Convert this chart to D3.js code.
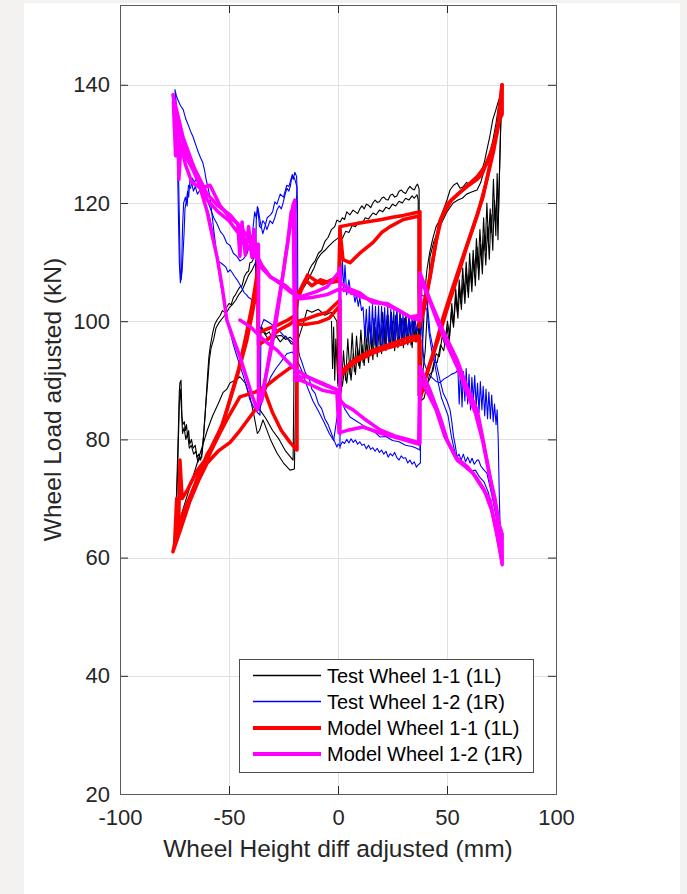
<!DOCTYPE html>
<html><head><meta charset="utf-8">
<script src="https://cdn.jsdelivr.net/npm/d3@7"></script>
<style>
html,body{margin:0;padding:0;background:#f3f2f1;}
svg{display:block;}
</style></head><body>
<svg id="chart" width="687" height="894"></svg>
<script>
// ---------------- data ----------------
const xTicks = [-100, -50, 0, 50, 100];
const yTicks = [20, 40, 60, 80, 100, 120, 140];
const seriesNames = ["Test Wheel 1-1 (1L)", "Test Wheel 1-2 (1R)", "Model Wheel 1-1 (1L)", "Model Wheel 1-2 (1R)"];
const xLabel = "Wheel Height diff adjusted (mm)";
const yLabel = "Wheel Load adjusted (kN)";

// Test Wheel 1-1 (1L)
const test11A = [[-74.8,63],[-74.3,68],[-73.8,74],[-73.2,82],[-72.8,88],[-72.5,89.6],[-72,90],[-71.6,84],[-71.2,82.5],[-70.5,83],[-70,81.5],[-69.5,82.5],[-69,80.4],[-68.5,81.5],[-68,79.2],[-67.2,80],[-66.5,78.5],[-65.5,79],[-64.7,77],[-63.8,77.5],[-63,76.5],[-62.3,78],[-61.6,81],[-61,84],[-60.4,87.5],[-59.8,91],[-59.2,94],[-58.5,96],[-57.5,98],[-56.5,99.5],[-55.5,100.2],[-54,101],[-53,101.8],[-52,101.5],[-51,102.4],[-50,103],[-49,102.8],[-48,104],[-47,104.5],[-46,105.2],[-45,105.8],[-44,106],[-43,107.5],[-42,108.2],[-41,108.5],[-40.4,109.9],[-39.5,110],[-38.5,110.8],[-37.5,111],[-37,111.6],[-36.5,110.5],[-36.3,98.5],[-35,99],[-33,97.8],[-31.5,98.2],[-30,96.8],[-28,97.5],[-26,97.6],[-24,96.9],[-22,97.3],[-20.5,96.8],[-19.2,96.5],[-18.8,101],[-18.2,104],[-16.5,105.5],[-15,106.8],[-14.2,107.5],[-13,108.8],[-12,109.5],[-10.5,110.2],[-9,111.5],[-7.5,112],[-6,113.5],[-4.5,114.2],[-3,115.5],[-1.5,116],[-0.5,117.1],[1,116.8],[2,117.5],[3,117.2],[4,118.5],[5.5,118],[6.9,118.8],[8,118.5],[9,118.2],[10,119],[11,119.5],[12,119],[13,119.8],[14,119.6],[15,119.2],[16,120],[17,120.5],[18,120.1],[19,120.2],[20,120.8],[21,121],[22,120.6],[23,120.5],[24,121.3],[25,121.5],[26,121],[27,121.2],[28,122],[29,122.2],[30,121.8],[31,121.6],[32,122.3],[33,122.8],[34,122.4],[35,122.2],[36,123],[36.5,123.2],[37.2,122.4],[37.4,104],[37.2,96],[37.5,90],[38.3,92],[39.3,100],[40.1,106],[40.8,108.7],[42,111.5],[43.5,114],[45,116],[46.8,117.2],[48.5,119],[50,120.5],[51.4,122.2],[53,123],[54.6,123.4],[56,122.5],[57.3,122.7],[59,123.5],[60.6,123],[62,123.8],[63.8,124.4],[65,124.8],[66,125.6],[67.2,127],[68.3,129],[69.5,131],[71,134.1],[72.2,135.5],[73.4,137],[74.3,138],[75.2,139.2],[74.5,131],[74,124],[73.4,113.8],[72.8,121],[72,117],[71.3,124],[70.5,115],[69.8,119],[69,113.5],[68.3,120],[67.5,112],[66.8,117.5],[66,110],[65.1,115.5],[64.3,109],[63.5,114],[62.7,107.5],[62,112],[61.2,106.5],[60.4,111.5],[59.6,105],[58.8,110],[58,104.5],[57.2,109],[56.4,103],[55.6,107],[54.8,101.5],[54,105.5],[53,99.5],[52.2,103],[51.2,97.5],[50.2,100],[49,96],[47.8,97.5],[46.5,94],[45,94.5],[43.5,91.5],[42,91],[40.5,88.5],[39,88],[37.6,87.5],[37.8,100],[36,96.5],[35,100.5],[34,95.5],[33,100],[32,96],[31,101],[30,95.5],[29,100.5],[28,96],[27,101.5],[26,95],[25,100],[24,95.5],[23,101],[22,95],[21,100],[20,94.5],[19,99.5],[18,94],[17,99],[16,93.5],[15,98],[14,93],[13,97],[12,92.5],[11,96],[10,92],[9,95.5],[8,91],[7,94.5],[6,90],[5,93],[4,89.5],[3,92],[2,89],[1,91],[0,89.5],[-0.5,100],[-3,101.5],[-6,101],[-9,102],[-12,101.5],[-14.2,101.9],[-16,99.5],[-18.8,96.3],[-19.5,86],[-20,75],[-22,74.8],[-25,76],[-28,77.7],[-31,80],[-34.4,83.3],[-36,81.5],[-37,81],[-38.5,84],[-40.4,87.2],[-42.5,89.5],[-45,90.6],[-47,90],[-49.5,89.6],[-51,88.5],[-52.8,87.9],[-55,86],[-57.5,84],[-60,81.5],[-62.5,78.5],[-65,75.5],[-67.5,72.5],[-70,69.5],[-72.5,66.5],[-74.8,63]];
const test11B = [[-74.5,64.5],[-73.8,72],[-73.2,80],[-72.8,86],[-72.3,88.5],[-71.8,85],[-71.3,81],[-70.6,82],[-69.8,80],[-69,81],[-68.2,78.5],[-67.3,79],[-66.2,77.5],[-65.2,78],[-64.3,76.2],[-63.3,76.8],[-62.5,77],[-62,79],[-61.2,83],[-60.5,86.5],[-59.7,90],[-59,93.5],[-58.2,95.5],[-57,97],[-56,98.8],[-54.5,99.8],[-53,100.5],[-51.5,101.2],[-50,102.2],[-48.5,102.8],[-47,103.5],[-45.5,104.5],[-44,105.2],[-42.5,106.5],[-41,107.8],[-39.5,108.6],[-38,109.8],[-37.2,110.5],[-36.8,99.5],[-34.5,98.3],[-32,97],[-29,97.8],[-26.5,96.5],[-24,97.5],[-21.5,96.2],[-19.6,96],[-19.4,103],[-18,105],[-15.5,105.8],[-13,107.5],[-11,109],[-9.6,110.4],[-8,111.3],[-6,112],[-4,112.8],[-2,113.5],[0.9,114.3],[2,114],[3.5,115.2],[5,115],[6.5,116.2],[8,116],[9.5,116.8],[11,116.5],[12.5,117.5],[14,117.3],[16,118.3],[17.5,118],[19,118.8],[20.5,118.5],[22,119.3],[23.5,119],[25,119.8],[26.5,119.5],[28,120.3],[29.5,120],[31,120.8],[32.5,120.5],[34,121.2],[35,120.8],[36.2,121.4],[36.8,120.5],[36.8,105],[37.2,102],[37.4,92],[38.5,90],[40,95],[41.3,104],[42.2,110.9],[44,113.5],[46,115.5],[48,117],[50,118.5],[52.8,120],[55,120.5],[57,120.8],[59,121.5],[61,121.8],[63.8,122.2],[65.5,123.5],[67,125.5],[68.5,127],[69.7,128.5],[71,130.5],[72.5,133.5],[73.5,136],[74.3,138],[74.8,136],[74.2,127],[73.6,118],[73,125],[72.4,114.5],[71.7,120.5],[71,112],[70.2,118],[69.4,110.5],[68.6,116],[67.8,109.5],[67,114.5],[66.2,108],[65.4,113],[64.6,107],[63.8,112.5],[63,106],[62.2,110.5],[61.4,105],[60.6,109],[59.8,104],[59,108],[58.2,103],[57.4,107],[56.6,102],[55.8,105.5],[55,100.5],[54,104],[53,99],[52,101.5],[51,96.5],[50,99],[48.5,95],[47,96],[45.5,93],[44,93],[42.5,90.5],[41,89.5],[39.5,87],[38,86.5],[37.4,88],null,[-35.8,85],[-33,83.5],[-30,81.5],[-27,80],[-24,78],[-20.6,76.5],[-20.2,90],[-19.8,98],null,[-3,100],[-2.5,92],[-2,99],[-1.5,90],[-1,97],[0,89],[0.5,96],[1.5,88],[2.5,95],[3.5,90],[4.5,97],[5.5,91],[6.5,98],[7.5,91.5],[8.5,97.5],[9.5,92.5],[10.5,98.5],[11.5,93],[12.5,99],[13.5,94],[14.5,100],[15.5,94.5],[16.5,100.5],[17.5,95],[18.5,101],[19.5,95.5],[20.5,101.5],[21.5,96],[22.5,101],[23.5,95.5],[24.5,101.5],[25.5,96],[26.5,101],[27.5,95.5],[28.5,101.2],[29.5,96],[30.5,100.5],[31.5,96.5],[32.5,100.5],[33.5,96],[34.5,100],[35.5,96.5],[36.5,99.5],[37.2,97]];

// Test Wheel 1-2 (1R)
const test12A = [[74.5,61],[74.3,64.2],[73.4,65.2],[72.2,67.5],[71,69.8],[69.7,72],[68.3,74.3],[67,74.8],[65.5,75.5],[64.5,76.5],[63.8,76.5],[62.5,75.8],[61.5,76.8],[60.6,76],[59.5,77],[58.5,76.2],[57.5,77.5],[56.5,76.5],[55.5,77.5],[54.6,77],[53.8,79],[53,80.5],[52.2,83],[51.4,85],[50,86.5],[48.2,87.9],[46.8,90],[45.4,92.3],[43.8,95],[42.2,98],[41.5,101],[40.8,103.6],[39.5,104.2],[38.3,104.5],[37.9,98],[37.9,88],[37.8,76],[36.5,75.6],[36,75.3],[35,76.2],[34,75.8],[33,76.5],[32,76],[31,76.9],[30,76.8],[29,77.2],[28,76.5],[27,76.9],[26,77.8],[25,77.2],[24,77.6],[23,77],[22,78],[21,77.5],[20,78.2],[19,77.8],[18,78.5],[17,78],[16,78.6],[15,78.3],[14,79],[13,78.4],[12,79.2],[11,79],[10,79.6],[9,79.2],[8,79.9],[7,79.5],[6,80.1],[5,79.4],[4,80],[3,79.3],[2,79.6],[1,78.9],[0,79.2],[-0.5,78.7],[-2,80],[-3,81],[-4.5,82.5],[-6,83.5],[-7.5,85.2],[-9,86],[-10.5,87.8],[-12,88.5],[-13,90],[-14,90.6],[-15.2,91.5],[-16.5,93],[-17.5,94],[-18.5,95.6],[-19,100],[-19.2,110],[-19.3,118],[-18.8,122.7],[-19.8,124],[-21,124.8],[-21.8,123],[-22.5,122],[-23.4,122.5],[-24.3,121.4],[-25.2,120],[-26,119],[-27,119.5],[-28,118.8],[-29,117.5],[-30,116.5],[-31.2,117],[-32.6,115.5],[-33.5,116.5],[-34.5,117],[-35.3,115.8],[-36,116],[-36.5,118],[-37,119.4],[-37.5,117],[-37.8,110],[-37.8,103],[-39,103.2],[-40,103.8],[-41,104],[-42,104.5],[-43,104.8],[-44,105.5],[-45,106.2],[-46.3,107],[-47.5,107.6],[-48.5,108.2],[-49.5,108.7],[-50.5,108.3],[-51.5,109.2],[-52.5,109.5],[-53.5,109.8],[-54.5,110],[-55.5,110.4],[-56.5,112.5],[-57.2,114.5],[-58,116],[-59,117.8],[-60,119],[-61,120],[-62.2,121.2],[-63.3,122.2],[-64.5,121.5],[-65.5,122.8],[-66.3,122],[-67.2,123.5],[-67.9,123.9],[-68.5,121],[-69,122],[-69.5,120.5],[-70.2,119],[-70.6,115],[-71,112],[-71.5,108.5],[-72,107],[-72.4,109],[-72.8,118],[-73.2,126],[-73.7,132],[-74.2,136],[-74.8,139.2],[-74.2,138.2],[-73.5,137.5],[-72.3,136.5],[-71,135.8],[-69.8,134.2],[-68.5,133],[-67.5,132],[-66.5,131.2],[-65.2,129.8],[-64,128.5],[-63,127.6],[-62,126.8],[-61.2,125.5],[-60.5,124],[-59.6,122.5],[-58.7,121],[-57.8,118],[-57,115.5],[-56.2,113],[-55.5,110.9],[-54.5,108],[-53.5,105.5],[-52.2,103],[-51,100.6],[-49.5,98.2],[-48,96],[-46.5,94.2],[-45,92.5],[-43.5,90.8],[-42,89],[-41.2,87.8],[-40.4,86.7],[-39.2,85.8],[-38,85],[-36.8,84.5],[-35.8,84.1],[-35.5,92],[-35.3,99],[-34,100.3],[-32.6,100],[-31,99.6],[-29.5,99.2],[-28,98.5],[-26.5,98.2],[-25,97.6],[-23,97],[-21,96.5],[-18.8,95.6]];
const test12B = [[0.9,78.5],[1,92],[0.7,104],[1,111.6],[1.5,106],[2,110.5],[2.6,105],[3.2,109.5],[4,104.5],[5,107],[6,104.5],[6.9,105.3],[7.8,103.2],[8.5,104.5],[9.3,102.5],[10,104],[10.8,101.8],[11.5,102.4],[12.3,97.5],[13,102],[13.7,96.5],[14.4,102.5],[15.1,96.2],[15.8,102.8],[16.5,96],[17.2,102.5],[17.9,95.8],[18.6,102.6],[19.3,96],[20,102.5],[20.7,95.8],[21.4,102.3],[22.1,95.9],[22.8,102.4],[23.5,96],[24.2,102],[24.9,96.2],[25.6,101.8],[26.3,96.3],[27,101.8],[27.7,96.5],[28.4,101.5],[29.1,96.6],[29.8,101.3],[30.5,96.9],[31.2,101],[31.9,97.2],[32.6,100.8],[33.3,97.5],[34,100.5],[34.7,97.8],[35.4,100.2],[36.2,98.2],[37,100.3],[37.6,99],[38.3,103],[38.8,96],[39.5,93],[40.5,92],[41.5,91],[43,90.5],[45,89.8],[46.8,89.6],[48.5,90.2],[50,90.5],[52,91],[54,91.3],[55,91.8],[55.6,86],[56.2,92.2],[56.9,85.5],[57.5,91.5],[58.2,86.5],[58.8,92],[59.5,86],[60.1,91],[60.8,85],[61.4,90.5],[62.1,86.5],[62.7,90.8],[63.4,85.5],[64,89.5],[64.7,84.5],[65.3,89.8],[66,85],[66.6,89],[67.3,84],[67.9,88.5],[68.6,83.5],[69.2,88],[69.9,83.5],[70.5,87.5],[71.2,83],[71.8,86],[72.5,82.5],[73,85],[73.5,80],[73.9,72],[74.3,66],[74.6,62],[75,60.5]];
const test12C = [[-74.5,138.5],[-73.8,131],[-73.3,120],[-72.8,110],[-72.3,106.5],[-71.8,108],[-71.3,116],[-70.8,120],[-70,121],[-69.2,119.5],[-68.6,123],[-67.6,122.5],[-66.8,124.2],[-65.8,123.5],[-64.5,124.5],[-63,123.8],[-61.5,122],[-60,120.5],[-58.5,119],[-57,117.5],[-55.5,116.5],[-54,115.2],[-52.5,114.5],[-51,113.2],[-49.5,112.8],[-48,111.5],[-46.5,111],[-45,110.2],[-43.5,110.5],[-42,111.2],[-40.5,112.8],[-39.2,115],[-38.2,118.5],[-37.5,117.5],[-36.7,119.2],[-35.5,116.5],[-34.5,114.8],[-33.5,116],[-32.5,117.5],[-31,118],[-30,118.5],[-29,120.2],[-28,119.8],[-26.5,121.5],[-25,121],[-23.5,123],[-22.5,122.8],[-21.2,124.5],[-20.5,124],[-19.8,125.2],[-19,124.5],[-18.6,120],[-18.4,100],[-18,95],null,[-36,85],[-33.5,88],[-31,90.5],[-28.5,92],[-26,93.2],[-23.5,94.5],[-21,94.8],[-18.8,93.5],[-16.5,91.5],[-14,88.8],[-11.5,86.5],[-9,84.8],[-6.5,83],[-4,81],[-2,79.8],[0.9,87.2],[3,85.2],[5.5,83.8],[8,83.2],[11,82.5],[14,81.8],[17,81.2],[19.3,80.4],[22,80.5],[25,79.8],[28,79.6],[31,79],[34,78.8],[36,78.5],[37.6,78.2],[37.6,96],[38.5,100],[39.5,102.5],[40.8,102],[41.8,98],[43,95],[44.5,92.5],[46,89.5],[47.5,87],[49,85.5],[50.5,84],[52,80.5],[53.5,78],[55,76.2],[57,75.8],[59,75],[61,74.6],[63,74.8],[65,73.6],[67,72.8],[69,71],[70.5,68.5],[72,66.5],[73.5,64.8],[74.5,62.5]];

// Model Wheel 1-1 (1L)
const model11A = [[-75.7,61],[-73,65.5],[-70,68.5],[-66,72],[-62,75],[-59.6,77],[-55,80.5],[-50.9,85],[-46,91],[-42,96.5],[-39.5,101],[-37.5,105],[-36.7,109.5],[-36.7,98],[-33,98.6],[-28,99.3],[-23,100.2],[-19.5,101],[-18.8,103.5],[-16,106],[-14,107.8],[-10,106.8],[-7,106.3],[-3,107],[0.5,107.5],[0.9,116],[5,116.3],[10,116.6],[15,116.9],[20,117.2],[25,117.6],[30,117.9],[35,118.3],[37.6,118.5],[37.6,100.5],[40,104],[42.2,107.5],[44.5,112.5],[46.8,117],[50,119.8],[55,121.5],[60,123],[63.8,124],[66,124.8],[70,128.5],[73,132],[75.2,140],[74.5,136],[72.9,132.4],[70,127],[66.5,121],[62,116],[57.3,110.9],[52,105],[48.2,100.6],[44,95],[40.8,91.3],[38.5,88],[37.6,86.7],[37.6,96.8],[34.4,96.8],[28,96],[22,95.4],[16,94.6],[10,93.5],[5,92.3],[1,90.6],[0.9,103.6],[-5,101.5],[-10,101],[-15,100.3],[-18.8,100],[-18.8,78.2],[-22,79.5],[-26,81.5],[-30,84.5],[-34.4,88.9],[-36,87],[-37,85.5],[-40.4,83.8],[-45,81.5],[-49.5,79.5],[-55,78],[-60,76],[-64,73],[-68,69.5],[-72,65],[-75.7,61]];
const model11B = [[-75,62],[-74,70],[-73.2,64],[-72.5,76.5],[-71.5,70],[-69,71.5],[-65,74.5],[-61,76.5],[-57,79.5],[-53,82.5],[-49,87.5],[-45.5,92],[-42.5,97],[-39.5,102.5],[-37.5,107],[-36.5,110.3],[-36.5,96],[-32,97],[-27,98.5],[-22,99.5],[-19.2,100.5],[-19.2,104],[-15,107],[-12,106],[-8,107],[-4,106.5],[0.5,106.8],[0.9,115.5],[2.3,110.4],[5.5,109.9],[10,111.5],[16,113.3],[20,115],[23.9,116],[30,117.2],[37.2,117.8],[37.2,99],[39.5,102],[42,107],[45,113.5],[47.5,117.5],[52,120.5],[58,122.5],[64,124.5],[68,126.5],[71,129],[73.5,133],[75.3,140],[75.3,135],[74,134],[71.5,129],[68,123.5],[64,118],[59,112.5],[54,106.5],[50,102],[46,97],[42.5,93],[39.5,89.5],[37.2,87.5],[37.2,97.5],[33,97.3],[27,96.5],[20,95.6],[14,94.8],[8,93.6],[3,92],[0.5,91.2],[0.5,102.5],[-4,100.5],[-9,99.8],[-14,99.5],[-19.2,99.5],[-19.2,92.5],[-22,92.1],[-28,90.5],[-33,89],[-38,88],[-45,87.2],[-50,84],[-55,80.5],[-60,77.5],[-65,73],[-70,67.5],[-75,62]];

// Model Wheel 1-2 (1R)
const model12A = [[-75.7,138.3],[-74,134],[-73,131],[-71,128.5],[-68.5,127],[-66.5,125.6],[-64,123.5],[-62,121],[-60,118.5],[-58,115],[-55.5,110.9],[-53,105.5],[-51,100.2],[-48,97],[-45,94],[-42,90.5],[-39.5,87.5],[-37,85],[-35,87.5],[-33.5,90],[-31,94.5],[-29,98.5],[-26.5,104.5],[-24.3,110.4],[-22,116],[-20.6,119.7],[-19.8,120.5],[-19.5,91],[-17,90.5],[-14,90.6],[-10,89.8],[-5,89],[-0.5,88.4],[0.9,86.7],[3,85.8],[6.9,85],[12,83.5],[19.3,81.6],[26,80.6],[32,80],[37.6,79.4],[37.6,92.3],[42,88.5],[46.8,83.8],[50,80],[54.6,76.5],[58,75.5],[61.9,74.3],[65,72.5],[69.7,69.8],[72,65.5],[75.2,59.6],[72.9,67.6],[70.5,72],[68.3,76.5],[66,81],[63.8,85],[59,89],[54.6,93.5],[48,98.5],[42.2,103.6],[37.6,108.2],[37.6,101],[33,100.7],[28,101.8],[22.5,103],[16,103.1],[10,104.8],[5,105.5],[0.9,106.5],[0.9,108.5],[-5,105.8],[-10,105],[-17.4,104.1],[-19.5,104.5],[-24,106],[-31,107.5],[-35,109.5],[-37,111],[-37,113],[-40.4,113.8],[-45,116],[-49.5,118],[-55,119.5],[-60,121.5],[-66,126],[-71,131],[-75.7,138.3]];
const model12B = [[-75.5,137],[-74.5,128],[-73.5,134],[-73,124],[-72,130],[-70,126.5],[-67,123.5],[-63,122.5],[-58.7,123],[-54,119.5],[-49.5,117.5],[-46,116.5],[-45,111],[-44,116.8],[-42.5,111.2],[-41,116],[-39.5,110.8],[-38.5,115.5],[-37.5,111],[-36.5,113],[-36.5,86],[-35,86.5],[-32.5,92],[-30,97.5],[-27.5,103],[-25,108.5],[-23,113.5],[-21.5,118.5],[-20.5,119],[-19.8,90],[-17,90],[-14,89.5],[-7,88.3],[-0.5,87.8],[0.5,81.1],[5,81.6],[11.5,82.1],[20,81],[28,80.2],[37,79.2],[37.5,90.5],[41,88],[45,85],[49,80.5],[54,77],[59,75.5],[63,73.8],[67,71.5],[70.5,68],[73,64],[75.3,58.8],[75.3,64],[74,65.5],[72,70],[69.5,74],[66.5,79.5],[63,84.5],[59,88],[55,92],[50,96],[45,100.5],[41,104.5],[38,107],[37.8,100.2],[34,100.5],[28,101.8],[22,102.8],[16,103.5],[10,104.2],[5,105],[1,105.5],[-5,104.5],[-12,104],[-17.4,103.8],[-22,105],[-27,106.5],[-31,107.5],[-35,109],[-38,111],[-41,112.5],[-45,114.5],[-50,117],[-55,118.5],[-60,120.5],[-65,124.5],[-70,129],[-75.5,137],null,[-45,100.2],[-40,99],[-36,97.5],[-32,96.2],[-28,95.1],[-24,93.5],[-20,92],[-14,90.6],[-7,89.5],[-0.5,88.4],null,[0.9,109],[0.9,81]];

// ---------------- chart ----------------
const series = [
  {name: seriesNames[0], paths: [test11A, test11B], color: "#000000", width: 1.1},
  {name: seriesNames[1], paths: [test12A, test12B, test12C], color: "#0000ff", width: 1.1},
  {name: seriesNames[2], paths: [model11A, model11B], color: "#ff0000", width: 3.5},
  {name: seriesNames[3], paths: [model12A, model12B], color: "#ff00ff", width: 3.5}
];

const FONT = "'Liberation Sans', Arial, Helvetica, sans-serif";
const AX = "#262626";
const svg = d3.select("#chart");

svg.append("rect").attr("x", 24).attr("y", 3).attr("width", 656).attr("height", 891).attr("fill", "#ffffff");

const x = d3.scaleLinear().domain([-100, 100]).range([120, 556]);
const y = d3.scaleLinear().domain([20, 153.5]).range([794, 5]);

// grid
const grid = svg.append("g").attr("stroke", "#e1e1e1").attr("stroke-width", 1).attr("shape-rendering", "crispEdges");
grid.selectAll("line.gx").data(xTicks.slice(1, -1)).join("line")
  .attr("x1", d => Math.round(x(d)) + 0.5).attr("x2", d => Math.round(x(d)) + 0.5)
  .attr("y1", y(153.5)).attr("y2", y(20));
grid.selectAll("line.gy").data(yTicks.slice(1)).join("line")
  .attr("y1", d => Math.round(y(d)) + 0.5).attr("y2", d => Math.round(y(d)) + 0.5)
  .attr("x1", x(-100)).attr("x2", x(100));

// data lines
const line = d3.line().defined(d => d !== null).x(d => x(d[0])).y(d => y(d[1]));
const plot = svg.append("g");
series.forEach(s => {
  s.paths.forEach(p => {
    plot.append("path").attr("d", line(p)).attr("fill", "none")
      .attr("stroke", s.color).attr("stroke-width", s.width)
      .attr("stroke-linejoin", "round").attr("stroke-linecap", "round");
  });
});

// axes
function styleAxis(g) {
  g.select(".domain").remove();
  g.selectAll(".tick line").attr("stroke", AX);
  g.selectAll("text").attr("fill", AX).attr("font-family", FONT).attr("font-size", 22);
  g.attr("font-family", FONT);
}
svg.append("g").attr("transform", `translate(0,${y(20)})`)
  .call(d3.axisBottom(x).tickValues(xTicks).tickSize(-8).tickPadding(15).tickFormat(d => String(d)))
  .call(styleAxis);
svg.append("g").attr("transform", `translate(${x(-100)},0)`)
  .call(d3.axisLeft(y).tickValues(yTicks).tickSize(-8).tickPadding(10).tickFormat(d => String(d)))
  .call(styleAxis);
svg.append("g").attr("transform", `translate(0,${y(153.5)})`)
  .call(d3.axisTop(x).tickValues(xTicks).tickSize(-8).tickFormat(""))
  .call(styleAxis);
svg.append("g").attr("transform", `translate(${x(100)},0)`)
  .call(d3.axisRight(y).tickValues(yTicks).tickSize(-8).tickFormat(""))
  .call(styleAxis);

// box
svg.append("rect").attr("x", x(-100) + 0.5).attr("y", y(153.5) + 0.5)
  .attr("width", x(100) - x(-100)).attr("height", y(20) - y(153.5))
  .attr("fill", "none").attr("stroke", "#5a5a5a").attr("stroke-width", 1)
  .attr("shape-rendering", "crispEdges");

// axis labels
svg.append("text").attr("x", (x(-100) + x(100)) / 2).attr("y", 857)
  .attr("text-anchor", "middle").attr("font-family", FONT).attr("font-size", 24.5)
  .attr("fill", AX).text(xLabel);
svg.append("text").attr("transform", `translate(61,${(y(20) + y(153.5)) / 2}) rotate(-90)`)
  .attr("text-anchor", "middle").attr("font-family", FONT).attr("font-size", 24.5)
  .attr("fill", AX).text(yLabel);

// legend
const lg = svg.append("g");
lg.append("rect").attr("x", 239.5).attr("y", 659.5).attr("width", 294).attr("height", 113)
  .attr("fill", "#ffffff").attr("stroke", "#4d4d4d").attr("stroke-width", 1);
const rowY = [675.5, 701.5, 728, 754];
series.forEach((s, i) => {
  lg.append("path")
    .attr("d", d3.line()([[253, rowY[i]], [321, rowY[i]]]))
    .attr("fill", "none")
    .style("stroke", s.color)
    .attr("stroke-width", s.width < 2 ? 1.3 : 4);
  lg.append("text").attr("x", 327).attr("y", rowY[i]).attr("dy", "0.36em")
    .attr("font-family", FONT).attr("font-size", 20).attr("fill", "#000000").text(s.name);
});
</script>
</body></html>
